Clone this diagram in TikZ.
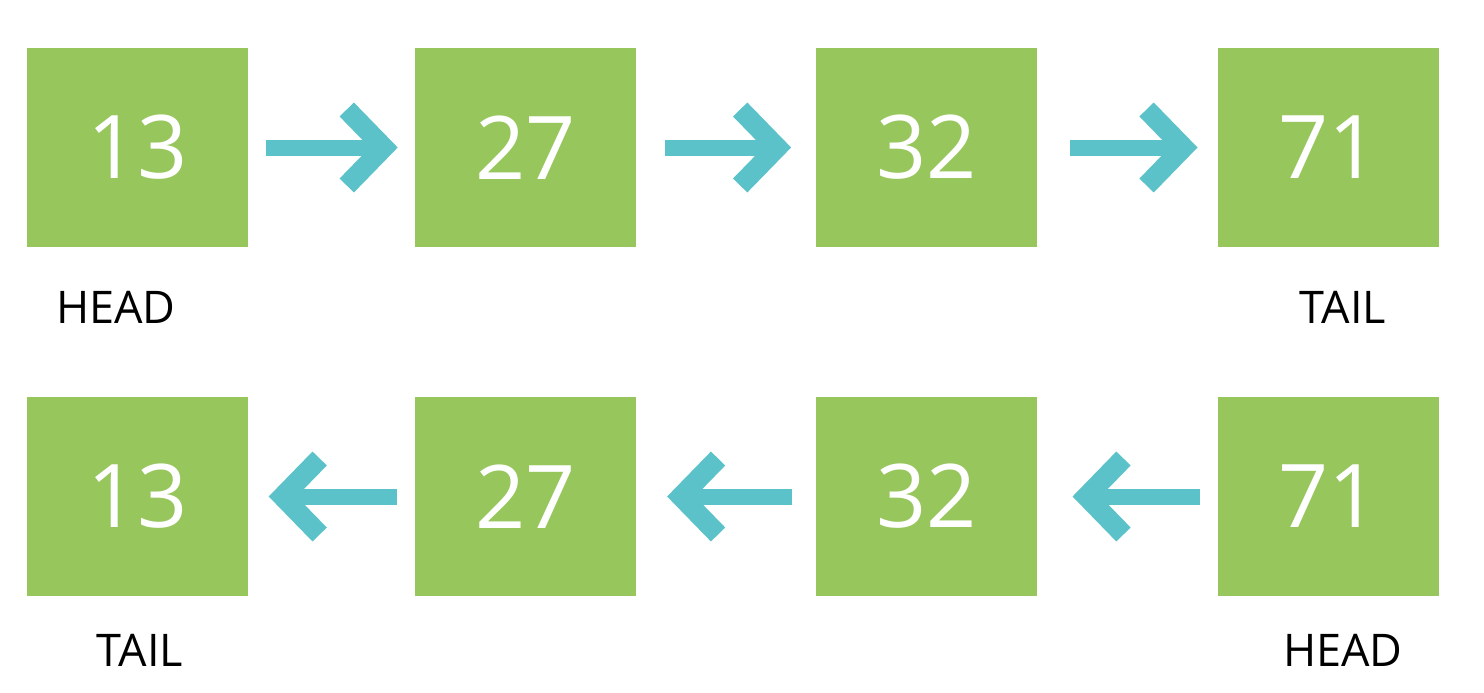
\documentclass[tikz,border=0pt]{standalone}
\usepackage{fontspec}
\setmainfont{Open Sans}
\usetikzlibrary{positioning, arrows.meta}
\definecolor{boxgreen}{HTML}{97C65C}
\definecolor{linkteal}{HTML}{5BC2C9}
\tikzset{
	item/.style={fill=boxgreen, minimum width=2.21cm, minimum height=1.99cm, inner sep=0pt, text=white, font=\fontsize{25}{30}\selectfont},
	link/.style={draw=linkteal, line width=0.16cm, shorten >=0.17cm, shorten <=0.17cm, -{Straight Barb[length=0.37cm, width=0.76cm, line width=0.2cm]}},
	tag/.style={inner sep=0pt, font=\fontsize{12.8}{15}\selectfont}
}
\begin{document}
\begin{tikzpicture}
		\useasboundingbox (0,0) rectangle (14.84,6.92);

		% nodes - top list %
		\node[item] (a13) at (1.375,5.445) {13};
		\node[item, right=1.66cm of a13] (a27) {27};
		\node[item, right=1.78cm of a27] (a32) {32};
		\node[item, right=1.80cm of a32] (a71) {71};
		\node[tag] (ahead) at (1.16,3.85) {HEAD};
		\node[tag] (atail) at (13.43,3.85) {TAIL};

		% nodes - bottom list %
		\node[item] (b13) at (1.375,1.955) {13};
		\node[item, right=1.66cm of b13] (b27) {27};
		\node[item, right=1.78cm of b27] (b32) {32};
		\node[item, right=1.80cm of b32] (b71) {71};
		\node[tag] (btail) at (1.40,0.42) {TAIL};
		\node[tag] (bhead) at (13.43,0.42) {HEAD};

		% edges %
		\draw[link] (a13) -- (a27);
		\draw[link, shorten <=0.28cm, shorten >=0.24cm] (a27) -- (a32);
		\draw[link, shorten <=0.32cm, shorten >=0.20cm] (a32) -- (a71);
		\draw[link, shorten <=0.18cm, shorten >=0.20cm] (b27) -- (b13);
		\draw[link, shorten <=0.23cm, shorten >=0.30cm] (b32) -- (b27);
		\draw[link, shorten <=0.18cm, shorten >=0.35cm] (b71) -- (b32);
\end{tikzpicture}
\end{document}
